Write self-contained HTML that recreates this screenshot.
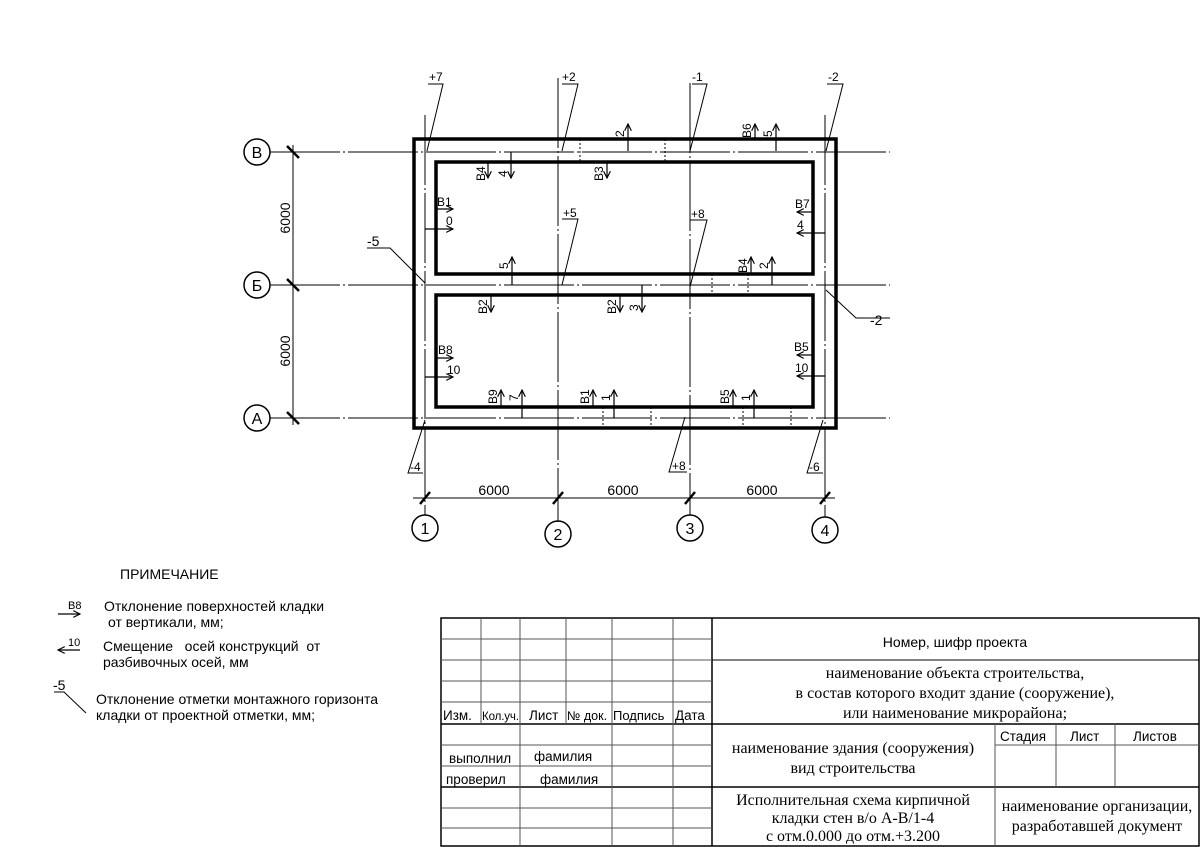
<!DOCTYPE html>
<html><head><meta charset="utf-8"><style>
html,body{margin:0;padding:0;background:#fff;}
svg{display:block;}
.s{font-family:"Liberation Sans",sans-serif;}
.t{font-family:"Liberation Serif",serif;}
</style></head><body>
<svg width="1200" height="847" viewBox="0 0 1200 847" xmlns="http://www.w3.org/2000/svg">
<defs>
<marker id="ah" viewBox="0 0 10 10" refX="9" refY="5" markerWidth="7" markerHeight="7" orient="auto-start-reverse"><path d="M1,1 L9,5 L1,9" fill="none" stroke="#000" stroke-width="1.4"/></marker>
</defs>
<g stroke="#000" fill="none">
<g stroke-width="1" stroke-dasharray="70 3 2 3">
<line x1="270" y1="152" x2="890" y2="152"/>
<line x1="270" y1="285" x2="890" y2="285"/>
<line x1="270" y1="418" x2="890" y2="418"/>
<line x1="425" y1="115" x2="425" y2="515"/>
<line x1="558" y1="78" x2="558" y2="522"/>
<line x1="690" y1="83" x2="690" y2="515"/>
<line x1="825" y1="115" x2="825" y2="517"/>
</g>
<rect x="414" y="139" width="422" height="289" stroke-width="3.5"/>
<rect x="436" y="162" width="377" height="112" stroke-width="3.5"/>
<rect x="436" y="295" width="377" height="112" stroke-width="3.5"/>
<g stroke-width="1" stroke-dasharray="2 2">
<line x1="580" y1="139" x2="580" y2="162"/><line x1="665" y1="139" x2="665" y2="162"/>
<line x1="712" y1="274" x2="712" y2="295"/><line x1="748" y1="274" x2="748" y2="295"/>
<line x1="603" y1="407" x2="603" y2="428"/><line x1="651" y1="407" x2="651" y2="428"/>
<line x1="743" y1="407" x2="743" y2="428"/><line x1="791" y1="407" x2="791" y2="428"/>
</g>
<g stroke-width="1.5">
<circle cx="257" cy="152" r="13"/><circle cx="257" cy="285" r="13"/><circle cx="257" cy="418" r="13"/>
<circle cx="425" cy="528" r="13"/><circle cx="558" cy="534" r="13"/><circle cx="690" cy="528" r="13"/><circle cx="825" cy="530" r="13"/>
</g>
<line x1="293" y1="145" x2="293" y2="425" stroke-width="1"/>
<line x1="413" y1="498" x2="835" y2="498" stroke-width="1"/>
<g stroke-width="2.5">
<line x1="287" y1="146" x2="299" y2="158"/><line x1="287" y1="279" x2="299" y2="291"/><line x1="287" y1="412" x2="299" y2="424"/>
<line x1="430" y1="492" x2="420" y2="504"/><line x1="563" y1="492" x2="553" y2="504"/><line x1="695" y1="492" x2="685" y2="504"/><line x1="830" y1="492" x2="820" y2="504"/>
</g>
<g stroke-width="1">
<polyline points="428,84 443,84 427,151"/>
<polyline points="562,84 578,84 562,151"/>
<polyline points="692,84 707,84 690,151"/>
<polyline points="827,84 843,84 826,151"/>
<polyline points="562,219 578,219 562,285"/>
<polyline points="690,220 707,220 690,287"/>
<polyline points="367,248 390,248 425,283"/>
<polyline points="826,290 856,318 890,318"/>
<polyline points="425,420 408,473 423,473"/>
<polyline points="685,417 669,472 687,472"/>
<polyline points="823,420 807,473 823,473"/>
</g>
<g stroke-width="1.2" marker-end="url(#ah)">
<line x1="628" y1="151" x2="628" y2="124"/>
<line x1="755" y1="139" x2="755" y2="124"/>
<line x1="776" y1="151" x2="776" y2="124"/>
<line x1="488" y1="162" x2="488" y2="178"/>
<line x1="511" y1="152" x2="511" y2="178"/>
<line x1="607" y1="162" x2="607" y2="178"/>
<line x1="436" y1="209" x2="453" y2="209"/>
<polyline points="425,229 453,229"/>
<line x1="813" y1="212" x2="797" y2="212"/>
<line x1="825" y1="233" x2="797" y2="233"/>
<line x1="512" y1="285" x2="512" y2="257"/>
<line x1="751" y1="274" x2="751" y2="257"/>
<line x1="772" y1="285" x2="772" y2="257"/>
<line x1="491" y1="295" x2="491" y2="312"/>
<line x1="620" y1="295" x2="620" y2="312"/>
<line x1="642" y1="285" x2="642" y2="312"/>
<line x1="436" y1="358" x2="453" y2="358"/>
<line x1="425" y1="377" x2="453" y2="377"/>
<line x1="813" y1="355" x2="797" y2="355"/>
<line x1="825" y1="376" x2="797" y2="376"/>
<line x1="501" y1="407" x2="501" y2="390"/>
<line x1="522" y1="418" x2="522" y2="390"/>
<line x1="593" y1="407" x2="593" y2="390"/>
<line x1="614" y1="418" x2="614" y2="390"/>
<line x1="733" y1="407" x2="733" y2="390"/>
<line x1="754" y1="418" x2="754" y2="390"/>
<line x1="58" y1="614" x2="80" y2="614"/>
<line x1="80" y1="650" x2="58" y2="650"/>
</g>
<polyline points="54,692 64,692 86,713" stroke-width="1"/>
</g>
<g class="s" font-size="12" fill="#000">
<text x="429" y="81">+7</text><text x="562" y="81">+2</text><text x="692" y="81">-1</text><text x="828" y="81">-2</text>
<text x="563" y="217">+5</text><text x="691" y="218">+8</text><text x="367" y="246" font-size="14">-5</text>
<text x="870" y="325" font-size="14">-2</text>
<text x="410" y="471">-4</text><text x="672" y="470">+8</text><text x="809" y="471">-6</text>
<text x="437" y="206">В1</text><text x="446" y="225">0</text>
<text x="795" y="208">В7</text><text x="797" y="229">4</text>
<text x="438" y="354">В8</text><text x="447" y="374">10</text>
<text x="794" y="351">В5</text><text x="795" y="372">10</text>
<g font-size="12">
<text transform="translate(624,137) rotate(-90)">2</text>
<text transform="translate(751,138) rotate(-90)">В6</text>
<text transform="translate(772,137) rotate(-90)">5</text>
<text transform="translate(485,181) rotate(-90)">В4</text>
<text transform="translate(507,177) rotate(-90)">4</text>
<text transform="translate(603,181) rotate(-90)">В3</text>
<text transform="translate(508,269) rotate(-90)">5</text>
<text transform="translate(747,273) rotate(-90)">В4</text>
<text transform="translate(768,269) rotate(-90)">2</text>
<text transform="translate(487,314) rotate(-90)">В2</text>
<text transform="translate(616,314) rotate(-90)">В2</text>
<text transform="translate(638,311) rotate(-90)">3</text>
<text transform="translate(497,404) rotate(-90)">В9</text>
<text transform="translate(518,401) rotate(-90)">7</text>
<text transform="translate(589,404) rotate(-90)">В1</text>
<text transform="translate(610,401) rotate(-90)">1</text>
<text transform="translate(729,404) rotate(-90)">В5</text>
<text transform="translate(750,401) rotate(-90)">1</text>
</g>
<g font-size="16" text-anchor="middle">
<text x="257" y="158">В</text><text x="257" y="291">Б</text><text x="257" y="424">А</text>
<text x="425" y="534">1</text><text x="558" y="540">2</text><text x="690" y="534">3</text><text x="825" y="536">4</text>
</g>
<g font-size="14" text-anchor="middle">
<text x="494" y="495">6000</text><text x="623" y="495">6000</text><text x="762" y="495">6000</text>
<text transform="translate(290,218) rotate(-90)">6000</text>
<text transform="translate(290,351) rotate(-90)">6000</text>
</g>
<text x="120" y="579" font-size="14">ПРИМЕЧАНИЕ</text>
<text x="68" y="609" font-size="11">В8</text>
<text x="104" y="611" font-size="14">Отклонение поверхностей кладки</text>
<text x="108" y="627" font-size="14">от вертикали, мм;</text>
<text x="68" y="646" font-size="11">10</text>
<text x="103" y="651" font-size="14" xml:space="preserve">Смещение   осей конструкций  от</text>
<text x="103" y="667" font-size="14">разбивочных осей, мм</text>
<text x="53" y="690" font-size="14">-5</text>
<text x="96" y="704" font-size="14">Отклонение отметки монтажного горизонта</text>
<text x="96" y="720" font-size="14">кладки от проектной отметки, мм;</text>
</g>
<g stroke="#000" stroke-width="1" fill="none">
<rect x="441" y="618" width="758" height="228" stroke-width="1.5"/>
<line x1="712" y1="618" x2="712" y2="846" stroke-width="1.5"/>
<line x1="441" y1="724" x2="1199" y2="724" stroke-width="1.5"/>
<line x1="441" y1="787" x2="1199" y2="787" stroke-width="1.5"/>
<line x1="712" y1="660" x2="1199" y2="660"/>
<g stroke="#555">
<line x1="441" y1="639" x2="712" y2="639"/><line x1="441" y1="660" x2="712" y2="660"/>
<line x1="441" y1="681" x2="712" y2="681"/><line x1="441" y1="702" x2="712" y2="702"/>
<line x1="441" y1="745" x2="712" y2="745"/><line x1="441" y1="766" x2="712" y2="766"/>
<line x1="441" y1="808" x2="712" y2="808"/><line x1="441" y1="828" x2="712" y2="828"/>
<line x1="481" y1="618" x2="481" y2="724"/>
<line x1="520" y1="618" x2="520" y2="846"/>
<line x1="566" y1="618" x2="566" y2="724"/>
<line x1="612" y1="618" x2="612" y2="846"/>
<line x1="673" y1="618" x2="673" y2="846"/>
<line x1="995" y1="724" x2="995" y2="846"/>
<line x1="1056" y1="724" x2="1056" y2="787"/>
<line x1="1115" y1="724" x2="1115" y2="787"/>
<line x1="995" y1="745" x2="1199" y2="745"/>
</g>
</g>
<g fill="#000">
<g class="s" font-size="13.5">
<text x="443" y="720">Изм.</text><text x="482" y="720" font-size="11.5" textLength="37">Кол.уч.</text><text x="529" y="720">Лист</text>
<text x="567" y="720" font-size="12.5">№ док.</text><text x="613" y="720" font-size="13">Подпись</text><text x="675" y="720">Дата</text>
<text x="449" y="763">выполнил</text><text x="534" y="761">фамилия</text>
<text x="446" y="784">проверил</text><text x="540" y="784">фамилия</text>
<text x="955" y="647" text-anchor="middle" font-size="14">Номер, шифр проекта</text>
<text x="1000" y="741">Стадия</text><text x="1070" y="741">Лист</text><text x="1133" y="741">Листов</text>
</g>
<g class="t" font-size="16" text-anchor="middle">
<text x="955" y="678">наименование объекта строительства,</text>
<text x="955" y="698">в состав которого входит здание (сооружение),</text>
<text x="955" y="718">или наименование микрорайона;</text>
<text x="853" y="753">наименование здания (сооружения)</text>
<text x="853" y="773">вид строительства</text>
<text x="853" y="805">Исполнительная схема кирпичной</text>
<text x="853" y="823">кладки стен в/о А-В/1-4</text>
<text x="853" y="841">с отм.0.000 до отм.+3.200</text>
<text x="1097" y="811">наименование организации,</text>
<text x="1097" y="831">разработавшей документ</text>
</g>
</g>
</svg>
</body></html>
